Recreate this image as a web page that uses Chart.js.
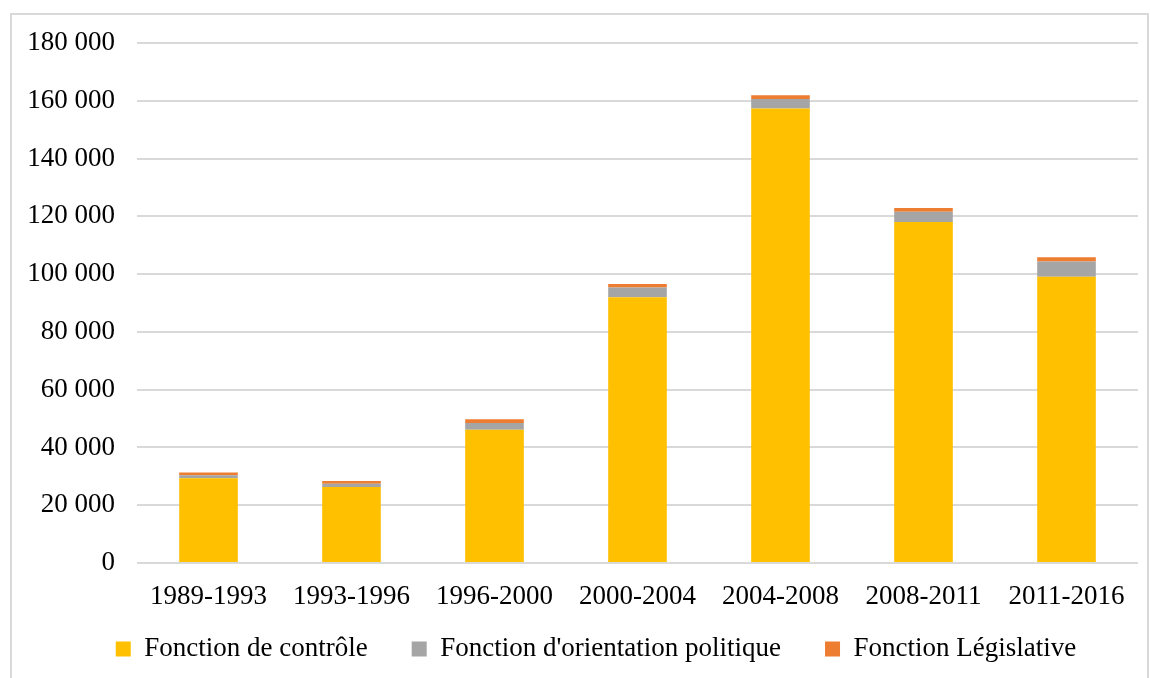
<!DOCTYPE html>
<html>
<head>
<meta charset="utf-8">
<script src="https://cdn.jsdelivr.net/npm/chart.js@4.4.1/dist/chart.umd.min.js"></script>
<style>
    html, body { margin: 0; padding: 0; background: #fff; }
    #frame { position: absolute; left: 10px; top: 13px; width: 1139px; height: 700px; border: 2px solid #d9d9d9; box-sizing: border-box; }
    #wrap { position: absolute; left: 0; top: 0; width: 1150px; height: 678px; }
</style>
</head>
<body>
<div id="frame"></div>
<div id="wrap"><canvas id="chart" width="1150" height="678"></canvas></div>
<script>
// Periods (legislatures)
const periods = ['1989-1993', '1993-1996', '1996-2000', '2000-2004', '2004-2008', '2008-2011', '2011-2016'];

// Series values
const controle    = [29300, 26300, 46100, 92000, 157300, 118000, 99100];
const orientation = [1100, 1100, 2400, 3400, 3300, 3600, 5300];
const legislative = [900, 1000, 1300, 1200, 1300, 1300, 1400];

const seriesNames = ['Fonction de contrôle', "Fonction d'orientation politique", 'Fonction Législative'];
const seriesColors = ['#FFC000', '#A5A5A5', '#ED7D31'];

const FONT = { family: '"Liberation Serif", "Times New Roman", serif', size: 27 };

function formatThousands(v) {
    return String(v).replace(/\B(?=(\d{3})+(?!\d))/g, ' ');
}

// legend items are spaced wide apart but should sit close under the axis labels:
// reserve less height for the legend, then nudge it into place
const legendPlace = {
    id: 'legendPlace',
    beforeLayout(chart) {
        const legend = chart.legend;
        if (!legend || legend._patched) return;
        const fit = legend.fit;
        legend.fit = function () { fit.call(this); this.height = 70; };
        legend._patched = true;
    },
    afterLayout(chart) {
        const legend = chart.legend;
        legend.top -= 16.5;
        legend.left += 27; legend.right += 27;
    }
};

const ctx = document.getElementById('chart').getContext('2d');
new Chart(ctx, {
    type: 'bar',
    data: {
        labels: periods,
        datasets: [controle, orientation, legislative].map((d, i) => ({
            label: seriesNames[i],
            data: d,
            backgroundColor: seriesColors[i],
            borderWidth: 0,
            barPercentage: 0.41,
            categoryPercentage: 1
        }))
    },
    plugins: [legendPlace],
    options: {
        responsive: false,
        animation: false,
        layout: { padding: { top: 43, right: 12, left: 0, bottom: 0 } },
        plugins: {
            tooltip: { enabled: false },
            legend: {
                position: 'bottom',
                labels: {
                    color: '#000',
                    font: FONT,
                    boxWidth: 15,
                    boxHeight: 15,
                    padding: 44
                }
            }
        },
        scales: {
            x: {
                stacked: true,
                grid: { display: false },
                border: { display: false },
                ticks: { color: '#000', font: FONT, padding: 10, maxRotation: 0 },
                afterFit: (scale) => { scale.height = 45; }
            },
            y: {
                stacked: true,
                min: 0,
                max: 180000,
                border: { display: false },
                grid: { color: '#d9d9d9', lineWidth: 2, drawTicks: false },
                ticks: {
                    color: '#000',
                    font: FONT,
                    stepSize: 20000,
                    padding: 22,
                    callback: (v) => formatThousands(v)
                },
                afterFit: (scale) => { scale.width = 137; }
            }
        }
    }
});
</script>
</body>
</html>
